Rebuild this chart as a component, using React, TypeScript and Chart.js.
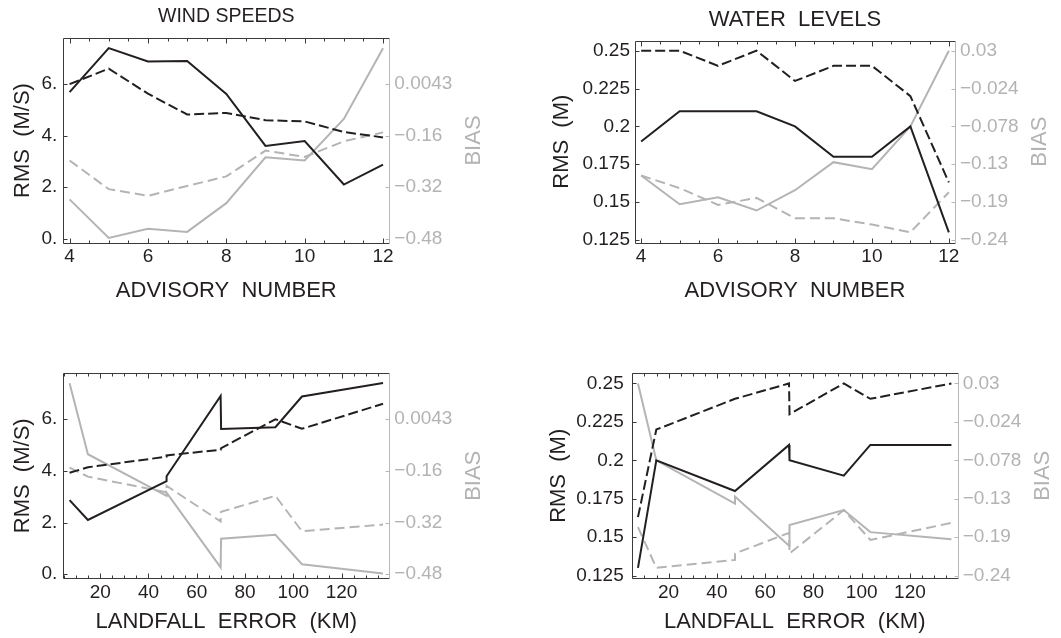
import { useEffect, useRef } from "react";
import { Chart, registerables } from "chart.js";

Chart.register(...registerables);

// ---------------- data ----------------
const advisoryNumbers = [4, 5, 6, 7, 8, 9, 10, 11, 12];
const landfallErrorKm = [92.6, 137.2, 103.6, 69.9, 70.1, 47.5, 47.5, 14.9, 7.3];

const windRmsSolid = [5.69, 7.4, 6.88, 6.9, 5.62, 3.6, 3.79, 2.1, 2.87];
const windRmsDashed = [6.0, 6.6, 5.63, 4.82, 4.88, 4.6, 4.55, 4.14, 3.93];
const windBiasSolid = [-0.357, -0.478, -0.449, -0.459, -0.369, -0.225, -0.235, -0.105, 0.117];
const windBiasDashed = [-0.235, -0.325, -0.346, -0.315, -0.285, -0.204, -0.224, -0.175, -0.147];

const waterRmsSolid = [0.19, 0.21, 0.21, 0.21, 0.2, 0.18, 0.18, 0.2, 0.13];
const waterRmsDashed = [0.25, 0.25, 0.24, 0.25, 0.23, 0.24, 0.24, 0.22, 0.163];
const waterBiasSolid = [-0.148, -0.189, -0.179, -0.198, -0.169, -0.129, -0.139, -0.078, 0.03];
const waterBiasDashed = [-0.148, -0.166, -0.19, -0.18, -0.209, -0.209, -0.218, -0.229, -0.172];

const advisoryTicks = [4, 6, 8, 10, 12];
const landfallTicks = [20, 40, 60, 80, 100, 120];
const windRmsTicks = [0, 2, 4, 6];
const windRmsTickLabels = ["0.", "2.", "4.", "6."];
const windBiasTickLabels = ["\u22120.48", "\u22120.32", "\u22120.16", "0.0043"];
const waterRmsTicks = [0.125, 0.15, 0.175, 0.2, 0.225, 0.25];
const waterRmsTickLabels = ["0.125", "0.15", "0.175", "0.2", "0.225", "0.25"];
const waterBiasTickLabels = ["\u22120.24", "\u22120.19", "\u22120.13", "\u22120.078", "\u22120.024", "0.03"];
// [rms, bias] pairs that tie the right-hand BIAS axis to the left RMS axis
const windBiasCalib = [[0, -0.48], [6, 0.0043]];
const waterBiasCalib = [[0.125, -0.24], [0.25, 0.03]];

// ---------------- styles ----------------
const FONT = "'Liberation Sans', Arial, Helvetica, sans-serif";
const BLACK = "#231f20";
const GRAY = "#b4b4b4";
const TEXT = "#231f20";
const GRAY_TEXT = "#b3b3b3";
const AXIS = "#3a3a3a";
const GRAY_AXIS = "#b8b8b8";

type Pt = { x: number; y: number };

const pairs = (xs: number[], ys: number[]): Pt[] => xs.map((x, i) => ({ x, y: ys[i] }));
const byLandfall = (ys: number[]): Pt[] =>
  pairs(landfallErrorKm, ys).sort((a, b) => a.x - b.x || a.y - b.y);

function calibration(c: number[][]) {
  const [[r0, b0], [r1, b1]] = c;
  return (v: number) => b0 + ((v - r0) * (b1 - b0)) / (r1 - r0);
}

type PanelSpec = {
  key: string;
  left: number;
  top: number;
  width: number;
  height: number;
  area: { left: number; right: number; top: number; bottom: number };
  title?: string;
  titleSize?: number;
  titleY?: number;
  xLabel: string;
  xMin: number;
  xMax: number;
  xTicks: number[];
  xMinorStep: number;
  xTitlePadBottom: number;
  yLabel: string;
  yMin: number;
  yMax: number;
  yTicks: number[];
  yTickLabels: string[];
  yTickPad: number;
  yTitlePad: number;
  biasCalib: number[][];
  biasTickLabels: string[];
  biasTitleX: number;
  rmsSolid: Pt[];
  rmsDashed: Pt[];
  biasSolid: Pt[];
  biasDashed: Pt[];
};

const panels: PanelSpec[] = [
  {
    key: "tl",
    left: 0,
    top: 0,
    width: 530,
    height: 319,
    area: { left: 63.3, right: 389.3, top: 38.3, bottom: 242.7 },
    title: "WIND SPEEDS",
    titleSize: 19.5,
    titleY: 17,
    xLabel: "ADVISORY  NUMBER",
    xMin: 3.84,
    xMax: 12.16,
    xTicks: advisoryTicks,
    xMinorStep: 0.5,
    xTitlePadBottom: 15,
    yLabel: "RMS  (M/S)",
    yMin: -0.16,
    yMax: 7.78,
    yTicks: windRmsTicks,
    yTickLabels: windRmsTickLabels,
    yTickPad: 6,
    yTitlePad: 9.8,
    biasCalib: windBiasCalib,
    biasTickLabels: windBiasTickLabels,
    biasTitleX: 474,
    rmsSolid: pairs(advisoryNumbers, windRmsSolid),
    rmsDashed: pairs(advisoryNumbers, windRmsDashed),
    biasSolid: pairs(advisoryNumbers, windBiasSolid),
    biasDashed: pairs(advisoryNumbers, windBiasDashed),
  },
  {
    key: "tr",
    left: 530,
    top: 0,
    width: 531,
    height: 319,
    area: { left: 105, right: 425, top: 40.7, bottom: 242.7 },
    title: "WATER  LEVELS",
    titleSize: 22,
    titleY: 19.5,
    xLabel: "ADVISORY  NUMBER",
    xMin: 3.84,
    xMax: 12.16,
    xTicks: advisoryTicks,
    xMinorStep: 0.5,
    xTitlePadBottom: 15,
    yLabel: "RMS  (M)",
    yMin: 0.1232,
    yMax: 0.2566,
    yTicks: waterRmsTicks,
    yTickLabels: waterRmsTickLabels,
    yTickPad: 5,
    yTitlePad: 18.5,
    biasCalib: waterBiasCalib,
    biasTickLabels: waterBiasTickLabels,
    biasTitleX: 510,
    rmsSolid: pairs(advisoryNumbers, waterRmsSolid),
    rmsDashed: pairs(advisoryNumbers, waterRmsDashed),
    biasSolid: pairs(advisoryNumbers, waterBiasSolid),
    biasDashed: pairs(advisoryNumbers, waterBiasDashed),
  },
  {
    key: "bl",
    left: 0,
    top: 319,
    width: 530,
    height: 319,
    area: { left: 63.3, right: 389.3, top: 54.3, bottom: 259.3 },
    xLabel: "LANDFALL  ERROR  (KM)",
    xMin: 4.7,
    xMax: 139.8,
    xTicks: landfallTicks,
    xMinorStep: 5,
    xTitlePadBottom: 2.8,
    yLabel: "RMS  (M/S)",
    yMin: -0.16,
    yMax: 7.78,
    yTicks: windRmsTicks,
    yTickLabels: windRmsTickLabels,
    yTickPad: 6,
    yTitlePad: 9.8,
    biasCalib: windBiasCalib,
    biasTickLabels: windBiasTickLabels,
    biasTitleX: 474,
    rmsSolid: byLandfall(windRmsSolid),
    rmsDashed: byLandfall(windRmsDashed),
    biasSolid: byLandfall(windBiasSolid),
    biasDashed: byLandfall(windBiasDashed),
  },
  {
    key: "br",
    left: 530,
    top: 319,
    width: 531,
    height: 319,
    area: { left: 101.7, right: 427.7, top: 54.3, bottom: 259.3 },
    xLabel: "LANDFALL  ERROR  (KM)",
    xMin: 4.7,
    xMax: 139.8,
    xTicks: landfallTicks,
    xMinorStep: 5,
    xTitlePadBottom: 2.8,
    yLabel: "RMS  (M)",
    yMin: 0.1232,
    yMax: 0.2566,
    yTicks: waterRmsTicks,
    yTickLabels: waterRmsTickLabels,
    yTickPad: 8,
    yTitlePad: 15.8,
    biasCalib: waterBiasCalib,
    biasTickLabels: waterBiasTickLabels,
    biasTitleX: 513.3,
    rmsSolid: byLandfall(waterRmsSolid),
    rmsDashed: byLandfall(waterRmsDashed),
    biasSolid: byLandfall(waterBiasSolid),
    biasDashed: byLandfall(waterBiasDashed),
  },
];

function buildConfig(s: PanelSpec): any {
  const toBias = calibration(s.biasCalib);
  const line = (data: Pt[], color: string, dash: number[], axis: string) => ({
    data,
    yAxisID: axis,
    borderColor: color,
    backgroundColor: color,
    borderWidth: 2,
    borderDash: dash,
    pointRadius: 0,
    pointHoverRadius: 0,
    fill: false,
    tension: 0,
  });

  const framePlugin = {
    id: "mmaFrame",
    afterDatasetsDraw(chart: any) {
      const { ctx, chartArea: a } = chart;
      const xs = chart.scales.x;
      const ys = chart.scales.y;
      const y2s = chart.scales.y2;
      const px = (v: number) => Math.round(v) + 0.5;
      const L = px(a.left);
      const R = px(a.right);
      const T = px(a.top);
      const B = px(a.bottom);
      ctx.save();
      ctx.lineWidth = 1;
      ctx.strokeStyle = AXIS;
      ctx.beginPath();
      const start = Math.ceil(s.xMin / s.xMinorStep) * s.xMinorStep;
      for (let v = start; v <= s.xMax + 1e-9; v += s.xMinorStep) {
        const major = s.xTicks.some((t) => Math.abs(t - v) < 1e-9);
        const len = major ? 5 : 3;
        const x = px(xs.getPixelForValue(v));
        ctx.moveTo(x, B);
        ctx.lineTo(x, B - len);
        ctx.moveTo(x, T);
        ctx.lineTo(x, T + len);
      }
      for (const v of s.yTicks) {
        const y = px(ys.getPixelForValue(v));
        ctx.moveTo(L, y);
        ctx.lineTo(L + 4, y);
      }
      ctx.moveTo(L, T);
      ctx.lineTo(L, B);
      ctx.lineTo(R, B);
      ctx.moveTo(L, T);
      ctx.lineTo(R, T);
      ctx.stroke();

      ctx.strokeStyle = GRAY_AXIS;
      ctx.beginPath();
      ctx.moveTo(R, T);
      ctx.lineTo(R, B);
      for (const v of s.yTicks) {
        const y = px(y2s.getPixelForValue(toBias(v)));
        ctx.moveTo(R, y);
        ctx.lineTo(R - 4, y);
      }
      ctx.stroke();

      ctx.textAlign = "center";
      ctx.textBaseline = "middle";
      if (s.title) {
        ctx.fillStyle = TEXT;
        ctx.font = `${s.titleSize}px ${FONT}`;
        ctx.fillText(s.title, (a.left + a.right) / 2, s.titleY);
      }
      ctx.save();
      ctx.translate(s.biasTitleX, (a.top + a.bottom) / 2);
      ctx.rotate(-Math.PI / 2);
      ctx.fillStyle = GRAY_TEXT;
      ctx.font = `22px ${FONT}`;
      ctx.fillText("BIAS", 0, 0);
      ctx.restore();
      ctx.restore();
    },
  };

  return {
    type: "line",
    data: {
      datasets: [
        line(s.rmsSolid, BLACK, [], "y"),
        line(s.rmsDashed, BLACK, [10, 4], "y"),
        line(s.biasSolid, GRAY, [], "y2"),
        line(s.biasDashed, GRAY, [10, 5], "y2"),
      ],
    },
    options: {
      animation: false,
      responsive: false,
      maintainAspectRatio: false,
      events: [],
      layout: { padding: { top: s.area.top, left: 0, right: 0, bottom: 0 } },
      plugins: {
        legend: { display: false },
        tooltip: { enabled: false },
        title: { display: false },
      },
      scales: {
        x: {
          type: "linear",
          position: "bottom",
          min: s.xMin,
          max: s.xMax,
          bounds: "data",
          afterBuildTicks: (sc: any) => {
            sc.ticks = s.xTicks.map((v) => ({ value: v }));
          },
          afterFit: (sc: any) => {
            sc.height = s.height - s.area.bottom;
          },
          grid: { display: false, drawTicks: false },
          border: { display: false },
          ticks: {
            color: TEXT,
            font: { family: FONT, size: 19 },
            padding: 3,
            maxRotation: 0,
            autoSkip: false,
            callback: (v: any) => String(v),
          },
          title: {
            display: true,
            text: s.xLabel,
            color: TEXT,
            font: { family: FONT, size: 22 },
            padding: { top: 0, bottom: s.xTitlePadBottom },
          },
        },
        y: {
          type: "linear",
          position: "left",
          min: s.yMin,
          max: s.yMax,
          bounds: "data",
          afterBuildTicks: (sc: any) => {
            sc.ticks = s.yTicks.map((v) => ({ value: v }));
          },
          afterFit: (sc: any) => {
            sc.width = s.area.left;
          },
          grid: { display: false, drawTicks: false },
          border: { display: false },
          ticks: {
            color: TEXT,
            font: { family: FONT, size: 19 },
            padding: s.yTickPad,
            autoSkip: false,
            callback: (_v: any, i: number) => s.yTickLabels[i],
          },
          title: {
            display: true,
            text: s.yLabel,
            color: TEXT,
            font: { family: FONT, size: 22 },
            padding: { top: s.yTitlePad, bottom: 0 },
          },
        },
        y2: {
          type: "linear",
          position: "right",
          min: toBias(s.yMin),
          max: toBias(s.yMax),
          bounds: "data",
          afterBuildTicks: (sc: any) => {
            sc.ticks = s.yTicks.map((v) => ({ value: toBias(v) }));
          },
          afterFit: (sc: any) => {
            sc.width = s.width - s.area.right;
          },
          grid: { display: false, drawTicks: false },
          border: { display: false },
          ticks: {
            color: GRAY_TEXT,
            font: { family: FONT, size: 19 },
            padding: 5,
            autoSkip: false,
            callback: (_v: any, i: number) => s.biasTickLabels[i],
          },
          title: { display: false },
        },
      },
    },
    plugins: [framePlugin],
  };
}

function Panel({ spec }: { spec: PanelSpec }) {
  const ref = useRef<HTMLCanvasElement>(null);
  useEffect(() => {
    if (!ref.current) return;
    const chart = new Chart(ref.current, buildConfig(spec));
    return () => chart.destroy();
  }, [spec]);
  return (
    <canvas
      ref={ref}
      width={spec.width}
      height={spec.height}
      style={{
        position: "absolute",
        left: spec.left,
        top: spec.top,
        width: spec.width,
        height: spec.height,
      }}
    />
  );
}

export default function App() {
  return (
    <div
      style={{
        position: "fixed",
        left: 0,
        top: 0,
        width: 1061,
        height: 638,
        background: "#ffffff",
        overflow: "hidden",
      }}
    >
      {panels.map((p) => (
        <Panel key={p.key} spec={p} />
      ))}
    </div>
  );
}
